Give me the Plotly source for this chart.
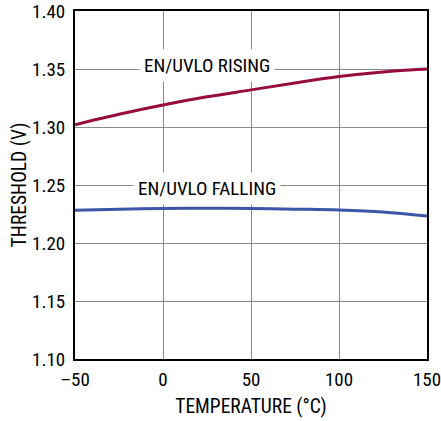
import plotly.graph_objects as go

temp = [-50, -25, 0, 25, 50, 75, 100, 125, 150]
rising = [1.302, 1.311, 1.319, 1.326, 1.332, 1.338, 1.3435, 1.3475, 1.350]
falling = [1.2282, 1.2292, 1.2297, 1.2300, 1.2298, 1.2292, 1.2285, 1.2268, 1.2232]

x_ticks = [-50, 0, 50, 100, 150]
x_ticktext = ["–50", "0", "50", "100", "150"]
y_ticks = [1.10, 1.15, 1.20, 1.25, 1.30, 1.35, 1.40]
y_ticktext = ["1.10", "1.15", "1.20", "1.25", "1.30", "1.35", "1.40"]

FONT = "Liberation Sans Narrow, Roboto Condensed, Arial Narrow, Roboto, sans-serif"
TICK = dict(family=FONT, size=19, color="black")
TITLE = dict(family=FONT, size=19.5, color="black")
ANN = dict(family=FONT, size=19, color="black")

fig = go.Figure()
fig.add_trace(go.Scatter(x=temp, y=rising, mode="lines", line=dict(color="#980C3A", width=3, shape="spline"), showlegend=False))
fig.add_trace(go.Scatter(x=temp, y=falling, mode="lines", line=dict(color="#3B55A8", width=3, shape="spline"), showlegend=False))

fig.add_annotation(x=25, y=1.35, text="EN/UVLO RISING", showarrow=False, bgcolor="white",
                   borderpad=4, font=ANN, yshift=4)
fig.add_annotation(x=25, y=1.25, text="EN/UVLO FALLING", showarrow=False, bgcolor="white",
                   borderpad=4, font=ANN, yshift=-3)

fig.update_layout(
    template="simple_white",
    width=441, height=421,
    margin=dict(l=75, r=14, t=11, b=62),
    paper_bgcolor="white", plot_bgcolor="white",
    font=dict(family=FONT, size=19, color="black"),
)
fig.update_xaxes(range=[-50, 150], tickvals=x_ticks, ticktext=x_ticktext, tickfont=TICK,
                 showgrid=True, gridcolor="#8a8a8a", gridwidth=1,
                 showline=True, linecolor="black", linewidth=2, mirror=True,
                 ticks="", zeroline=False, ticklabeloverflow="allow", automargin=False,
                 ticklabelstandoff=2,
                 title=dict(text="TEMPERATURE (°C)", standoff=10, font=TITLE))
fig.update_yaxes(range=[1.10, 1.40], tickvals=y_ticks, ticktext=y_ticktext, tickfont=TICK,
                 showgrid=True, gridcolor="#8a8a8a", gridwidth=1,
                 showline=True, linecolor="black", linewidth=2, mirror=True,
                 ticks="", zeroline=False, ticklabeloverflow="allow", automargin=False,
                 ticklabelstandoff=4,
                 title=dict(text="THRESHOLD (V)", standoff=0, font=TITLE))

fig.write_html("out.html", config={"displayModeBar": False},
               post_script="document.body.style.margin='0';")
